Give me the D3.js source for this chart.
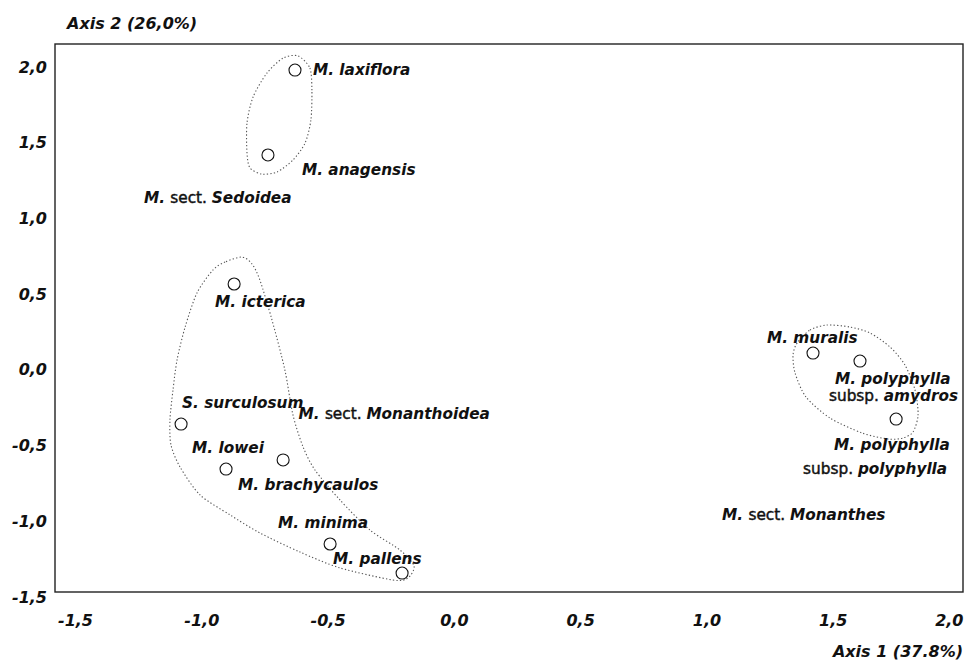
<!DOCTYPE html>
<html><head><meta charset="utf-8">
<script src="https://cdn.jsdelivr.net/npm/d3@7"></script>
<style>
body{margin:0;background:#fff;}
svg text{font-family:"DejaVu Sans",sans-serif;white-space:pre;fill:#111;}
</style></head><body>
<svg id="chart" width="972" height="664"></svg>
<script>
// ---------- data ----------
const species = ["M. laxiflora","M. anagensis","M. icterica","S. surculosum","M. lowei",
  "M. brachycaulos","M. minima","M. pallens","M. muralis",
  "M. polyphylla subsp. amydros","M. polyphylla subsp. polyphylla"];
const axis1 = [-0.629,-0.736,-0.870,-1.080,-0.902,-0.676,-0.490,-0.205,1.422,1.608,1.751];
const axis2 = [1.980,1.419,0.567,-0.358,-0.655,-0.595,-1.150,-1.342,0.111,0.058,-0.325];

const sections = ["M. sect. Sedoidea","M. sect. Monanthoidea","M. sect. Monanthes"];
const sectionAxis1 = [-1.227,-0.615,1.062];
const sectionAxis2 = [1.102,-0.322,-0.992];

const xTicks = [-1.5,-1.0,-0.5,0.0,0.5,1.0,1.5,2.0];
const yTicks = [-1.5,-1.0,-0.5,0.0,0.5,1.0,1.5,2.0];
const xTitle = "Axis 1 (37.8%)";
const yTitle = "Axis 2 (26,0%)";

// group outlines (data units)
const outlineSedoidea = [[-0.617,2.073],[-0.570,1.993],[-0.562,1.848],[-0.566,1.650],[-0.589,1.498],
  [-0.637,1.386],[-0.700,1.307],[-0.760,1.293],[-0.807,1.333],[-0.819,1.432],[-0.819,1.630],
  [-0.795,1.802],[-0.740,1.960],[-0.676,2.059]];
const outlineMonanthoidea = [[-0.839,0.745],[-0.906,0.712],[-0.954,0.659],[-1.017,0.508],[-1.064,0.283],
  [-1.096,0.065],[-1.112,-0.133],[-1.124,-0.331],[-1.120,-0.496],[-1.084,-0.642],[-1.005,-0.826],
  [-0.886,-0.958],[-0.768,-1.077],[-0.609,-1.203],[-0.451,-1.308],[-0.241,-1.388],[-0.182,-1.375],
  [-0.158,-1.295],[-0.213,-1.190],[-0.332,-1.058],[-0.451,-0.859],[-0.550,-0.661],[-0.597,-0.509],
  [-0.637,-0.298],[-0.669,-0.001],[-0.720,0.329],[-0.768,0.593],[-0.799,0.699]];
const outlineMonanthes = [[1.359,0.177],[1.410,0.263],[1.477,0.296],[1.568,0.283],[1.648,0.243],
  [1.727,0.151],[1.786,0.032],[1.826,-0.133],[1.838,-0.298],[1.818,-0.410],[1.778,-0.450],
  [1.719,-0.457],[1.616,-0.417],[1.489,-0.318],[1.394,-0.179],[1.351,-0.021],[1.343,0.098]];

// ---------- layout ----------
const frame = {left:55, top:44, right:963, bottom:592};
const labelOffsets = [
  [[18,5]],[[34,20]],[[-19,23]],[[1,-16]],[[-34,-16]],[[-45,30]],[[-52,-16]],[[-69,-9]],[[-46,-10]],
  [[-25,23],[-31,40]],
  [[-62,31],[-93,55]]
];
const FS = 15.3;

const svg = d3.select("#chart");
const x = d3.scaleLinear().domain([-1.5,2.0]).range([75,959]);
const y = d3.scaleLinear().domain([-1.5,2.0]).range([597,67]);

const loc = d3.formatLocale({decimal:",", thousands:".", grouping:[3], currency:["",""], minus:"-"});
const fmt = loc.format(".1f");

// frame
svg.append("rect")
  .attr("x",frame.left).attr("y",frame.top)
  .attr("width",frame.right-frame.left).attr("height",frame.bottom-frame.top)
  .attr("fill","none").attr("stroke","#222").attr("stroke-width",1.4);

// axes (labels only)
const gx = svg.append("g").attr("transform",`translate(0,${frame.bottom})`)
  .call(d3.axisBottom(x).tickValues(xTicks).tickSize(0).tickPadding(23).tickFormat(fmt));
const gy = svg.append("g").attr("transform",`translate(${frame.left},0)`)
  .call(d3.axisLeft(y).tickValues(yTicks).tickSize(0).tickPadding(8).tickFormat(fmt));
[gx,gy].forEach(g=>{
  g.select(".domain").remove();
  g.selectAll("text").attr("font-family","DejaVu Sans").attr("font-size",16)
    .attr("font-style","italic").attr("font-weight","bold").attr("fill","#111");
});
// keep x tick labels inside the page, ending at the frame's right edge at most
gx.selectAll(".tick text").each(function(d){
  const w = this.getComputedTextLength();
  const right = x(d) + w/2;
  if (right > frame.right) d3.select(this).attr("dx", frame.right - right);
});

svg.append("text").attr("x",67).attr("y",29).attr("font-size",16)
  .attr("font-style","italic").attr("font-weight","bold").text(yTitle);
svg.append("text").attr("x",963).attr("y",657).attr("text-anchor","end").attr("font-size",16)
  .attr("font-style","italic").attr("font-weight","bold").text(xTitle);

// outlines
const line = d3.line().x(d=>x(d[0])).y(d=>y(d[1])).curve(d3.curveCardinalClosed.tension(0.2));
[outlineSedoidea,outlineMonanthoidea,outlineMonanthes].forEach(o=>{
  svg.append("path").attr("d",line(o)).attr("fill","none")
    .attr("stroke","#555").attr("stroke-width",1.1).attr("stroke-dasharray","1.3,2.2");
});

// rich text helper
function richText(sel, str){
  const toks = str.split(" ");
  toks.forEach((t,i)=>{
    const up = (t==="sect." || t==="subsp.");
    const ts = sel.append("tspan")
      .attr("font-style", up ? "normal" : "italic")
      .attr("font-weight", up ? "normal" : "bold")
      .text(t + (i<toks.length-1 ? " " : ""));
    if (up) ts.attr("stroke","#111").attr("stroke-width",0.45);
  });
}

// points
svg.append("g").selectAll("circle").data(species).join("circle")
  .attr("cx",(d,i)=>x(axis1[i])).attr("cy",(d,i)=>y(axis2[i])).attr("r",6)
  .attr("fill","#fff").attr("stroke","#111").attr("stroke-width",1.1);

// species labels
species.forEach((name,i)=>{
  const k = name.indexOf(" subsp. ");
  const lines = k >= 0 ? [name.slice(0,k), name.slice(k+1)] : [name];
  lines.forEach((ln,j)=>{
    const off = labelOffsets[i][j];
    const t = svg.append("text").attr("x",x(axis1[i])+off[0]).attr("y",y(axis2[i])+off[1])
      .attr("font-size",FS);
    richText(t, ln);
  });
});

// section labels
sections.forEach((s,i)=>{
  const t = svg.append("text").attr("x",x(sectionAxis1[i])).attr("y",y(sectionAxis2[i]))
    .attr("font-size",FS);
  richText(t, s);
});
</script>
</body></html>
